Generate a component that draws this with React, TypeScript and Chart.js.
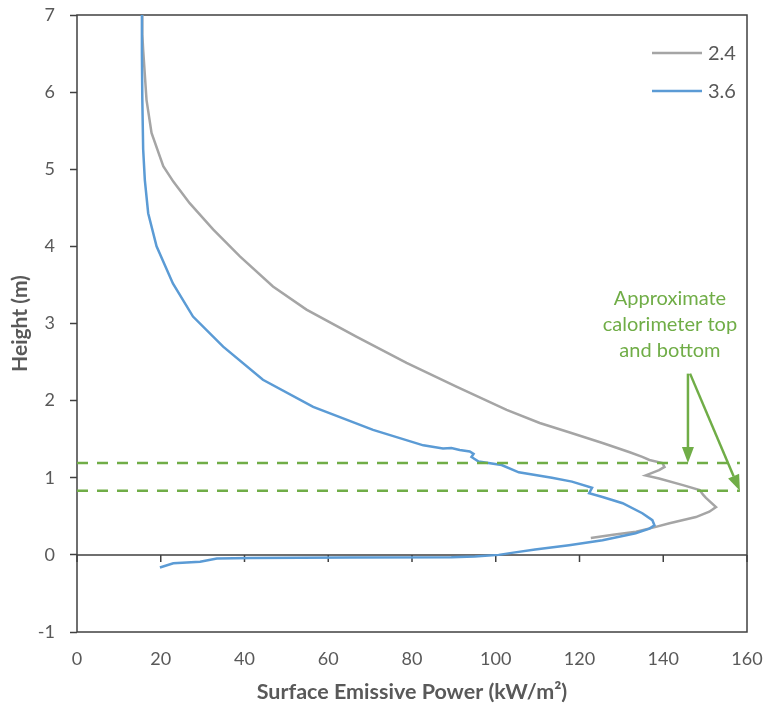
import React, { useEffect, useRef } from "react";
import { Chart, registerables } from "chart.js";

Chart.register(...registerables);

// ---- Data ----
const seriesNames = ["2.4", "3.6"];

const sep24X = [15.6, 15.6, 15.8, 16.6, 17.8, 20.6, 23, 26.9, 32.5, 38.9, 46.8, 54.8, 66.7, 78.7, 90.6, 102.6, 110.5, 117.5, 125.5, 132, 135, 136.7, 139.8, 140.3, 139, 135.8, 139, 144.7, 148.7, 149.5, 150.2, 152.6, 151, 147.8, 141.5, 138, 133.5, 128, 122.7];
const sep24Y = [7.0, 6.75, 6.55, 5.9, 5.47, 5.04, 4.84, 4.56, 4.22, 3.87, 3.48, 3.18, 2.83, 2.49, 2.18, 1.88, 1.71, 1.59, 1.45, 1.33, 1.27, 1.23, 1.19, 1.14, 1.1, 1.03, 0.99, 0.905, 0.84, 0.78, 0.74, 0.62, 0.56, 0.49, 0.41, 0.36, 0.3, 0.26, 0.22];

const sep36X = [15.5, 15.5, 15.6, 15.8, 16.2, 17, 19, 22.9, 27.7, 34.9, 44.4, 56.4, 70.7, 82.7, 87.4, 89.4, 91.4, 93.8, 94.7, 94.2, 95.9, 101.4, 105.5, 113.4, 118.2, 123, 122.3, 125.5, 130.3, 135, 137.4, 137.9, 136.7, 133.4, 125.5, 117.5, 109.4, 103.8, 100.7, 95, 89.4, 65.4, 41.5, 33.4, 29.4, 23, 19.8];
const sep36Y = [7.0, 6.5, 5.9, 5.26, 4.86, 4.43, 4.0, 3.52, 3.09, 2.7, 2.27, 1.92, 1.62, 1.42, 1.38, 1.385, 1.36, 1.34, 1.31, 1.27, 1.21, 1.165, 1.07, 1.0, 0.95, 0.87, 0.8, 0.75, 0.67, 0.54, 0.45, 0.385, 0.34, 0.28, 0.19, 0.126, 0.07, 0.026, 0.0, -0.02, -0.03, -0.034, -0.04, -0.047, -0.09, -0.11, -0.164];

const calorimeterLevels = [1.19, 0.83];
const calorimeterX = [0, 158.3];

const xTickValues = [0, 20, 40, 60, 80, 100, 120, 140, 160];
const yTickValues = [-1, 0, 1, 2, 3, 4, 5, 6, 7];

const annotationLines = ["Approximate", "calorimeter top", "and bottom"];
const annotationTextX = 141.6;
const annotationTextY = [3.33, 2.98, 2.65];
const arrowStartX = [145.9, 146.4];
const arrowStartY = [2.35, 2.35];
const arrowTipX = [145.9, 158.3];
const arrowTipY = [1.19, 0.83];

const xTitle = "Surface Emissive Power (kW/m²)";
const yTitle = "Height (m)";

// ---- Styles ----
const GRAY = "#A5A5A5";
const BLUE = "#5B9BD5";
const GREEN = "#70AD47";
const AXIS = "#404040";
const TEXT = "#595959";
const FONT = "Lato, 'Open Sans', sans-serif";

const toPoints = (xs: number[], ys: number[]) => xs.map((x, i) => ({ x, y: ys[i] }));

const overlayPlugin = {
  id: "overlay",
  beforeDatasetsDraw(chart: any) {
    const { ctx, chartArea: a, scales } = chart;
    const x = scales.x;
    const y = scales.y;
    ctx.save();
    ctx.strokeStyle = AXIS;
    ctx.lineWidth = 1.5;
    ctx.strokeRect(a.left, a.top, a.right - a.left, a.bottom - a.top);
    const y0 = y.getPixelForValue(0);
    ctx.beginPath();
    ctx.moveTo(a.left, y0);
    ctx.lineTo(a.right, y0);
    for (const t of xTickValues) {
      const px = x.getPixelForValue(t);
      ctx.moveTo(px, y0);
      ctx.lineTo(px, y0 + 7);
    }
    ctx.stroke();
    ctx.restore();
  },
  afterDatasetsDraw(chart: any) {
    const { ctx, chartArea: a, scales } = chart;
    const x = scales.x;
    const y = scales.y;
    ctx.save();
    // legend
    const legendColors = [GRAY, BLUE];
    ctx.font = `20px ${FONT}`;
    ctx.textBaseline = "middle";
    ctx.textAlign = "left";
    seriesNames.forEach((name, i) => {
      const ly = a.top + 38 + i * 38;
      ctx.strokeStyle = legendColors[i];
      ctx.lineWidth = 2.5;
      ctx.beginPath();
      ctx.moveTo(a.right - 95, ly);
      ctx.lineTo(a.right - 45, ly);
      ctx.stroke();
      ctx.fillStyle = TEXT;
      ctx.fillText(name, a.right - 39, ly + 1);
    });
    // annotation text
    ctx.fillStyle = GREEN;
    ctx.textAlign = "center";
    ctx.font = `20px ${FONT}`;
    annotationLines.forEach((line, i) => {
      ctx.fillText(line, x.getPixelForValue(annotationTextX), y.getPixelForValue(annotationTextY[i]));
    });
    // arrows
    ctx.strokeStyle = GREEN;
    ctx.fillStyle = GREEN;
    ctx.lineWidth = 2.5;
    for (let i = 0; i < arrowStartX.length; i++) {
      const sx = x.getPixelForValue(arrowStartX[i]);
      const sy = y.getPixelForValue(arrowStartY[i]);
      const tx = x.getPixelForValue(arrowTipX[i]);
      const ty = y.getPixelForValue(arrowTipY[i]);
      const ang = Math.atan2(ty - sy, tx - sx);
      const hl = 16;
      const hw = 6;
      const bx = tx - hl * Math.cos(ang);
      const by = ty - hl * Math.sin(ang);
      ctx.beginPath();
      ctx.moveTo(sx, sy);
      ctx.lineTo(bx, by);
      ctx.stroke();
      ctx.beginPath();
      ctx.moveTo(tx, ty);
      ctx.lineTo(bx + hw * Math.sin(ang), by - hw * Math.cos(ang));
      ctx.lineTo(bx - hw * Math.sin(ang), by + hw * Math.cos(ang));
      ctx.closePath();
      ctx.fill();
    }
    ctx.restore();
  },
};

export default function App() {
  const ref = useRef<HTMLCanvasElement>(null);
  useEffect(() => {
    if (!ref.current) return;
    const dashed = calorimeterLevels.map((lvl) => ({
      label: "calorimeter",
      data: calorimeterX.map((cx) => ({ x: cx, y: lvl })),
      borderColor: GREEN,
      borderWidth: 2.5,
      borderDash: [11, 9],
      pointRadius: 0,
      showLine: true,
      order: 0,
    }));
    const chart = new Chart(ref.current, {
      type: "scatter",
      data: {
        datasets: [
          ...dashed,
          {
            label: seriesNames[1],
            data: toPoints(sep36X, sep36Y),
            borderColor: BLUE,
            borderWidth: 2.5,
            pointRadius: 0,
            showLine: true,
            order: 1,
          },
          {
            label: seriesNames[0],
            data: toPoints(sep24X, sep24Y),
            borderColor: GRAY,
            borderWidth: 2.5,
            pointRadius: 0,
            showLine: true,
            order: 2,
          },
        ] as any,
      },
      options: {
        animation: false,
        responsive: false,
        devicePixelRatio: 1,
        layout: { padding: { top: 15, right: 19, left: 0, bottom: 0 } },
        plugins: { legend: { display: false }, tooltip: { enabled: false } },
        scales: {
          x: {
            type: "linear",
            min: 0,
            max: 160,
            afterBuildTicks: (s: any) => {
              s.ticks = xTickValues.map((v) => ({ value: v }));
            },
            afterFit: (s: any) => {
              s.height = 76;
              s.paddingLeft = 0;
              s.paddingRight = 0;
              s.paddingTop = 0;
              s.paddingBottom = 0;
            },
            grid: { display: false, drawTicks: false },
            border: { display: false },
            ticks: { color: TEXT, font: { family: FONT, size: 18 }, padding: 16, maxRotation: 0 },
            title: {
              display: true,
              text: xTitle,
              color: TEXT,
              font: { family: FONT, size: 21.5, weight: "bold" },
              padding: { top: 0, bottom: 3 },
            },
          },
          y: {
            type: "linear",
            min: -1,
            max: 7,
            afterBuildTicks: (s: any) => {
              s.ticks = yTickValues.map((v) => ({ value: v }));
            },
            afterFit: (s: any) => {
              s.width = 77;
              s.paddingLeft = 0;
              s.paddingRight = 0;
              s.paddingTop = 0;
              s.paddingBottom = 0;
            },
            grid: {
              display: true,
              drawOnChartArea: false,
              drawTicks: true,
              tickLength: 7,
              tickColor: AXIS,
              tickWidth: 1.5,
            },
            border: { display: false },
            ticks: { color: TEXT, font: { family: FONT, size: 18 }, padding: 15 },
            title: {
              display: true,
              text: yTitle,
              color: TEXT,
              font: { family: FONT, size: 21, weight: "bold" },
              padding: { top: 8, bottom: 0 },
            },
          },
        },
      },
      plugins: [overlayPlugin],
    });
    return () => chart.destroy();
  }, []);
  return (
    <div style={{ position: "absolute", left: 0, top: 0, width: 766, height: 708 }}>
      <canvas ref={ref} width={766} height={708} style={{ display: "block", width: 766, height: 708 }} />
    </div>
  );
}
